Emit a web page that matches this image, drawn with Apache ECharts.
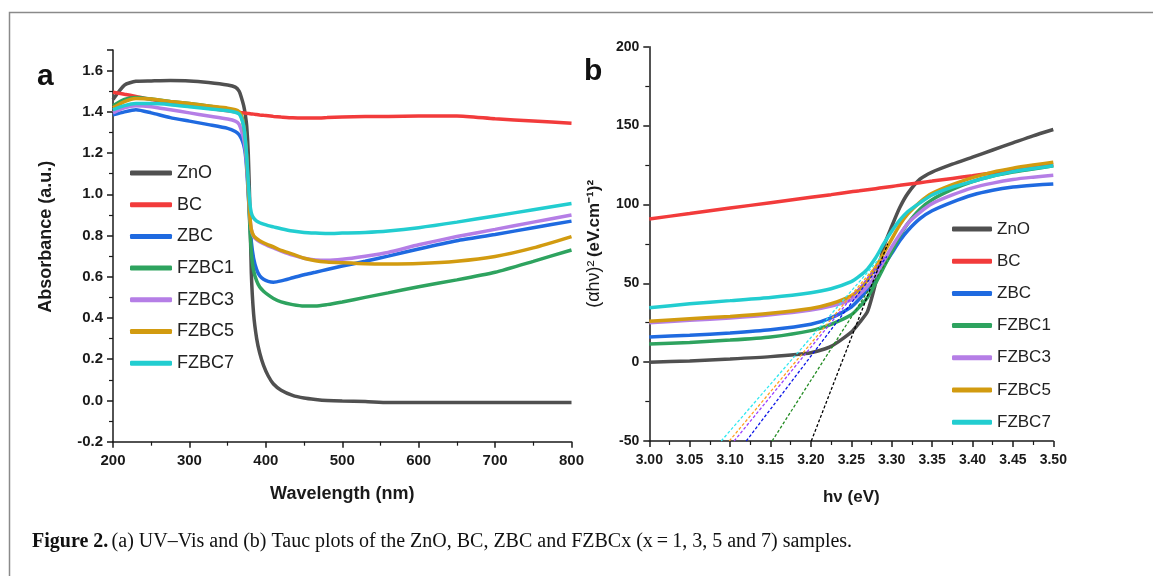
<!DOCTYPE html>
<html>
<head>
<meta charset="utf-8">
<script src="https://cdn.jsdelivr.net/npm/echarts@6/dist/echarts.min.js"></script>
<style>
  html, body { margin: 0; padding: 0; background: #fff; }
  #chart { width: 1153px; height: 576px; }
</style>
</head>
<body>
<div id="chart"></div>
<script>
// sample names, same order in both panels
const names = ['ZnO', 'BC', 'ZBC', 'FZBC1', 'FZBC3', 'FZBC5', 'FZBC7'];
const colors = ['#505050', '#f23b3b', '#1f6ae0', '#2ea35f', '#b57ee6', '#d29b10', '#22cdd0'];

// (a) UV-Vis: wavelength (nm) and absorbance (a.u.)
const wavelength = [200, 215, 230, 250, 275, 300, 325, 350, 360, 365, 368, 371, 373, 375, 377, 379, 381, 384, 388, 392, 397, 403, 410, 420, 435, 450, 465, 480, 500, 530, 560, 600, 650, 700, 750, 800];
const absZnO = [1.46, 1.53, 1.548, 1.55, 1.552, 1.55, 1.542, 1.53, 1.52, 1.5, 1.47, 1.43, 1.39, 1.33, 1.2, 0.95, 0.62, 0.42, 0.3, 0.23, 0.17, 0.12, 0.08, 0.05, 0.025, 0.012, 0.005, 0.0, -0.003, -0.005, -0.01, -0.01, -0.01, -0.01, -0.01, -0.01];
const absBC = [1.495, 1.485, 1.475, 1.46, 1.445, 1.43, 1.418, 1.405, 1.4, 1.398, 1.396, 1.395, 1.394, 1.393, 1.392, 1.391, 1.39, 1.389, 1.387, 1.385, 1.383, 1.381, 1.378, 1.375, 1.371, 1.37, 1.37, 1.372, 1.375, 1.377, 1.378, 1.38, 1.38, 1.366, 1.356, 1.345];
const absZBC = [1.385, 1.4, 1.41, 1.395, 1.372, 1.355, 1.338, 1.32, 1.305, 1.29, 1.27, 1.24, 1.2, 1.12, 1.0, 0.87, 0.77, 0.69, 0.635, 0.605, 0.588, 0.578, 0.574, 0.58, 0.595, 0.61, 0.622, 0.635, 0.652, 0.675, 0.7, 0.735, 0.775, 0.805, 0.838, 0.87];
const absFZBC1 = [1.43, 1.46, 1.47, 1.462, 1.45, 1.44, 1.428, 1.413, 1.405, 1.395, 1.38, 1.34, 1.28, 1.18, 1.02, 0.85, 0.72, 0.63, 0.58, 0.55, 0.53, 0.512, 0.495, 0.478, 0.465, 0.458, 0.458, 0.465, 0.478, 0.5, 0.522, 0.552, 0.585, 0.622, 0.675, 0.73];
const absFZBC3 = [1.395, 1.42, 1.43, 1.425, 1.41, 1.395, 1.38, 1.365, 1.355, 1.34, 1.31, 1.27, 1.22, 1.14, 1.02, 0.9, 0.83, 0.795, 0.78, 0.77, 0.76, 0.75, 0.74, 0.725, 0.705, 0.69, 0.682, 0.68, 0.685, 0.7, 0.718, 0.755, 0.795, 0.83, 0.865, 0.9];
const absFZBC5 = [1.42, 1.45, 1.465, 1.462, 1.45, 1.44, 1.428, 1.418, 1.41, 1.4, 1.38, 1.33, 1.27, 1.17, 1.03, 0.9, 0.83, 0.8, 0.785, 0.775, 0.765, 0.755, 0.745, 0.728, 0.71, 0.69, 0.678, 0.672, 0.668, 0.663, 0.662, 0.664, 0.675, 0.698, 0.74, 0.795];
const absFZBC7 = [1.41, 1.43, 1.44, 1.44, 1.435, 1.425, 1.415, 1.405, 1.398, 1.39, 1.37, 1.33, 1.27, 1.18, 1.06, 0.96, 0.91, 0.885, 0.87, 0.862, 0.855, 0.848, 0.842, 0.833, 0.822, 0.815, 0.812, 0.81, 0.812, 0.815, 0.822, 0.838, 0.865, 0.895, 0.925, 0.955];

// (b) Tauc: photon energy (eV) and (alpha h nu)^2
const energy = [3.00, 3.05, 3.10, 3.15, 3.20, 3.225, 3.25, 3.26, 3.27, 3.28, 3.29, 3.30, 3.31, 3.32, 3.335, 3.35, 3.375, 3.40, 3.425, 3.45, 3.475, 3.50];
const taucZnO = [0, 0.8, 2, 3.5, 6, 10, 19, 25, 32, 50, 73, 86, 98, 107, 116, 120.5, 125.5, 130, 134.5, 139, 143.5, 147.5];
const taucBC = [90.8, 94.2, 97.7, 101.1, 104.5, 106.2, 108, 108.6, 109.3, 110, 110.7, 111.4, 112.1, 112.8, 113.8, 114.8, 116.5, 118.2, 120, 121.7, 123.4, 125.1];
const taucZBC = [16, 17, 18.5, 20.5, 24, 28, 35, 40, 46, 53, 61, 69, 77, 83.5, 91, 96, 101.5, 106, 109, 111, 112.2, 113];
const taucFZBC1 = [11.5, 12.5, 14, 16, 20, 24, 30, 35, 41, 50, 60, 70, 80, 88, 97, 103, 109.5, 114.5, 118, 120.5, 122.5, 124.5];
const taucFZBC3 = [25, 26.5, 28, 30, 33, 35.5, 39.5, 43, 48, 55, 64, 73, 81, 88, 95, 100.5, 106, 110.5, 113.5, 115.8, 117.3, 118.5];
const taucFZBC5 = [26, 27.5, 29, 31, 34, 37, 42, 46, 52, 60, 69, 78, 87, 94, 101.5, 107, 112.5, 117, 120.5, 123, 125, 126.8];
const taucFZBC7 = [34.5, 37, 39, 41, 44, 46.5, 51, 54.5, 59, 66, 75, 83, 90, 95.5, 101, 106, 111, 114.5, 118, 120.8, 122.8, 124.5];

// linear-fit (band gap) lines: end points [x0, x1] and [y0, y1]
const fitColors = ['#000000', '#228b22', '#0a14e6', '#9b40ff', '#ffa020', '#30e8f0'];
const fitX = [[3.2005, 3.295], [3.152, 3.298], [3.12, 3.294], [3.105, 3.292], [3.099, 3.29], [3.089, 3.287]];
const fitY = [[-50, 75], [-50, 67], [-50, 67], [-50, 67], [-50, 67], [-50, 67]];

const absSets = [absZnO, absBC, absZBC, absFZBC1, absFZBC3, absFZBC5, absFZBC7];
const taucSets = [taucZnO, taucBC, taucZBC, taucFZBC1, taucFZBC3, taucFZBC5, taucFZBC7];

const zip = (xs, ys) => xs.map((x, i) => [x, ys[i]]);
const font = 'Liberation Sans, Arial, sans-serif';

const axisLine = { show: true, onZero: false, lineStyle: { color: '#1a1a1a', width: 1.5 } };
const axisTick = { show: true, inside: false, length: 6, lineStyle: { color: '#1a1a1a', width: 1.5 } };
const minorTick = { show: true, splitNumber: 2, length: 4, lineStyle: { color: '#1a1a1a', width: 1.2 } };

const series = [];
names.forEach((n, i) => {
  series.push({
    name: n, type: 'line', xAxisIndex: 0, yAxisIndex: 0,
    data: zip(wavelength, absSets[i]),
    showSymbol: false, smooth: 0.2, color: colors[i],
    lineStyle: { width: 3.5, color: colors[i] }
  });
});
names.forEach((n, i) => {
  series.push({
    name: n, type: 'line', xAxisIndex: 1, yAxisIndex: 1,
    data: zip(energy, taucSets[i]),
    showSymbol: false, smooth: 0.2, color: colors[i],
    lineStyle: { width: 3.5, color: colors[i] }
  });
});
// ZnO fit is drawn last so it sits on top
[1, 2, 3, 4, 5, 0].forEach(k => {
  series.push({
    name: 'fit' + k, type: 'line', xAxisIndex: 1, yAxisIndex: 1,
    data: zip(fitX[k], fitY[k]),
    showSymbol: false, silent: true,
    lineStyle: { width: 1.3, type: [3, 2], color: fitColors[k] }
  });
});

const chart = echarts.init(document.getElementById('chart'));
chart.setOption({
  animation: false,
  backgroundColor: '#fff',
  grid: [
    { left: 113, top: 50, width: 458.5, height: 391.7 },
    { left: 649.3, top: 46.7, width: 404, height: 394.3 }
  ],
  legend: [
    {
      data: names, orient: 'vertical', left: 125, top: 158, icon: 'roundRect',
      itemWidth: 42, itemHeight: 5, itemGap: 11.7,
      textStyle: { fontFamily: font, fontSize: 18, color: '#222', lineHeight: 20 }
    },
    {
      data: names, orient: 'vertical', left: 947, top: 214, icon: 'roundRect',
      itemWidth: 40, itemHeight: 5, itemGap: 12.2,
      textStyle: { fontFamily: font, fontSize: 17, color: '#222', lineHeight: 20 }
    }
  ],
  xAxis: [
    {
      gridIndex: 0, type: 'value', min: 200, max: 800, interval: 100,
      name: 'Wavelength (nm)', nameLocation: 'middle', nameGap: 43,
      nameTextStyle: { fontFamily: font, fontSize: 18, fontWeight: 'bold', color: '#1a1a1a' },
      axisLine, axisTick, minorTick, splitLine: { show: false },
      axisLabel: { fontFamily: font, fontSize: 15, fontWeight: 'bold', color: '#1a1a1a', margin: 12 }
    },
    {
      gridIndex: 1, type: 'value', min: 3.0, max: 3.5, interval: 0.05,
      name: 'hν (eV)', nameLocation: 'middle', nameGap: 48,
      nameTextStyle: { fontFamily: font, fontSize: 17, fontWeight: 'bold', color: '#1a1a1a' },
      axisLine, axisTick, minorTick, splitLine: { show: false },
      axisLabel: { fontFamily: font, fontSize: 14, fontWeight: 'bold', color: '#1a1a1a', margin: 12,
        formatter: v => v.toFixed(2) }
    }
  ],
  yAxis: [
    {
      gridIndex: 0, type: 'value', min: -0.2, max: 1.7, interval: 0.2,
      name: 'Absorbance (a.u.)', nameLocation: 'middle', nameGap: 58,
      nameTextStyle: { fontFamily: font, fontSize: 18, fontWeight: 'bold', color: '#1a1a1a', padding: [0, 0, 0, 18] },
      axisLine, axisTick, minorTick, splitLine: { show: false },
      axisLabel: { fontFamily: font, fontSize: 15, fontWeight: 'bold', color: '#1a1a1a', margin: 10,
        showMaxLabel: false, formatter: v => v.toFixed(1) }
    },
    {
      gridIndex: 1, type: 'value', min: -50, max: 200, interval: 50,
      name: '{n|(αhν)²} {b|(eV.cm⁻¹)²}', nameLocation: 'middle', nameGap: 46,
      nameTextStyle: {
        rich: {
          n: { fontFamily: font, fontSize: 18, color: '#1a1a1a' },
          b: { fontFamily: font, fontSize: 17, fontWeight: 'bold', color: '#1a1a1a' }
        }
      },
      axisLine, axisTick, minorTick, splitLine: { show: false },
      axisLabel: { fontFamily: font, fontSize: 14, fontWeight: 'bold', color: '#1a1a1a', margin: 10 }
    }
  ],
  graphic: [
    { type: 'rect', silent: true, shape: { x: 9.5, y: 12.5, width: 1300, height: 700 },
      style: { fill: 'none', stroke: '#8a8a8a', lineWidth: 1.5 } },
    { type: 'text', left: 37, top: 62, style: { text: 'a', font: 'bold 30px ' + font, fill: '#111' } },
    { type: 'text', left: 584, top: 57, style: { text: 'b', font: 'bold 30px ' + font, fill: '#111' } },
    {
      type: 'text', left: 32, top: 532,
      style: {
        text: '{b|Figure 2.} {n|(a) UV–Vis and (b) Tauc plots of the ZnO, BC, ZBC and FZBCx (x\u2009=\u20091, 3, 5 and 7) samples.}',
        rich: {
          b: { fontFamily: 'Liberation Serif, serif', fontSize: 20, fontWeight: 'bold', fill: '#111' },
          n: { fontFamily: 'Liberation Serif, serif', fontSize: 20, fill: '#111' }
        }
      }
    }
  ],
  series
});
</script>
</body>
</html>
